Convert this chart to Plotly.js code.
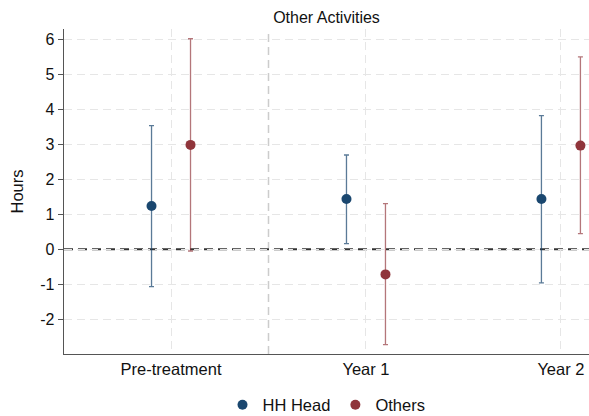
<!DOCTYPE html>
<html>
<head>
<meta charset="utf-8">
<script src="https://cdn.plot.ly/plotly-3.0.1.min.js"></script>
<style>html,body{margin:0;padding:0;background:#fff;}#chart{width:589px;height:416px;}</style>
</head>
<body>
<div id="chart"></div>
<script>
const categories = ["Pre-treatment", "Year 1", "Year 2"];
const headEst   = [1.24, 1.44, 1.44];
const headLower = [-1.07, 0.16, -0.96];
const headUpper = [3.54, 2.70, 3.83];
const othEst    = [2.99, -0.72, 2.97];
const othLower  = [-0.05, -2.73, 0.45];
const othUpper  = [6.03, 1.31, 5.51];
const yTicks = [-2, -1, 0, 1, 2, 3, 4, 5, 6];
const yTickLabels = ["-2", "-1", "0", "1", "2", "3", "4", "5", "6"];
const refLineY = 0;

const idx = categories.map((c, i) => i);
const font = "Liberation Sans, Arial, sans-serif";

function series(name, est, lo, hi, off, col, barCol) {
  return {
    type: "scatter", mode: "markers", name: name,
    x: idx.map(i => i + off), y: est,
    marker: {color: col, size: 10},
    error_y: {
      type: "data", symmetric: false,
      array: hi.map((h, i) => h - est[i]),
      arrayminus: lo.map((l, i) => est[i] - l),
      color: barCol, thickness: 1.3, width: 2.5
    }
  };
}

const data = [
  series("HH Head", headEst, headLower, headUpper, -0.1, "#1a476f", "rgba(26,71,111,0.72)"),
  series("Others", othEst, othLower, othUpper, 0.1, "#90353b", "rgba(144,53,59,0.68)")
];

const layout = {
  width: 589, height: 416,
  margin: {l: 64, r: 0, t: 29, b: 62, autoexpand: false},
  paper_bgcolor: "#fff", plot_bgcolor: "#fff",
  font: {family: font, color: "#111", size: 16},
  title: {text: "Other Activities", font: {family: font, size: 16, color: "#111"},
          x: 0.5, xref: "paper", y: 1 - 17/416, yref: "container", yanchor: "middle"},
  showlegend: true,
  legend: {orientation: "h", x: 0.5, xanchor: "center", xref: "paper",
           y: (416 - 405) / 416, yref: "container", yanchor: "middle",
           font: {family: font, size: 16.5, color: "#111"}, tracegroupgap: 0},
  xaxis: {
    range: [-0.549, 2.144], tickvals: idx, ticktext: categories,
    showgrid: true, gridcolor: "#e6e6e6", griddash: "8px,5px", gridwidth: 1,
    zeroline: false, showline: true, linecolor: "#555", linewidth: 1.3,
    ticks: "", tickfont: {family: font, size: 16.5, color: "#111"}, fixedrange: true,
    automargin: false
  },
  yaxis: {
    range: [-3.0, 6.31], tickvals: yTicks, ticktext: yTickLabels,
    showgrid: true, gridcolor: "#e6e6e6", griddash: "8px,5px", gridwidth: 1,
    zeroline: false, showline: true, linecolor: "#555", linewidth: 1.3,
    ticks: "outside", ticklen: 5, tickcolor: "#555", tickwidth: 1,
    tickfont: {family: font, size: 16, color: "#111"}, automargin: false,
    title: {text: "Hours", font: {family: font, size: 16.5, color: "#111"}, standoff: 12}
  },
  shapes: [
    {type: "line", xref: "x", yref: "paper", x0: 0.5, x1: 0.5, y0: 0, y1: 1,
     line: {color: "#cccccc", width: 1.5, dash: "8px,5px"}, layer: "between"},
    {type: "line", xref: "paper", yref: "y", x0: 0, x1: 1, y0: refLineY, y1: refLineY,
     line: {color: "#ffffff", width: 2.5}, layer: "between"},
    {type: "line", xref: "paper", yref: "y", x0: 0, x1: 1, y0: refLineY, y1: refLineY,
     line: {color: "#333", width: 1.8, dash: "9px,5px"}, layer: "between"}
  ]
};

Plotly.newPlot("chart", data, layout, {displayModeBar: false, staticPlot: true});
</script>
</body>
</html>
